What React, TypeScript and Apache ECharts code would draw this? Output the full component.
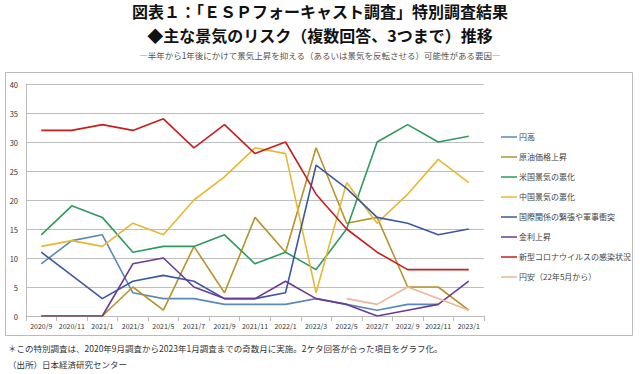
import React, { useEffect, useRef } from "react";
import * as echarts from "echarts";

const categories = ["2020/9", "2020/11", "2021/1", "2021/3", "2021/5", "2021/7", "2021/9", "2021/11", "2022/1", "2022/3", "2022/5", "2022/7", "2022/ 9", "2022/11", "2023/1"];

const endaka = [9, 13, 14, 4, 3, 3, 2, 2, 2, 3, 2, 1, 2, 2, null];
const genyu = [0, 0, 0, 5, 1, 12, 4, 17, 11, 29, 16, 17, 5, 5, 1];
const beikoku = [14, 19, 17, 11, 12, 12, 14, 9, 11, 8, 15, 30, 33, 30, 31];
const chugoku = [12, 13, 12, 16, 14, 20, 24, 29, 28, 4, 23, 16, 21, 27, 23];
const kokusai = [11, 7, 3, 6, 7, 6, 3, 3, 4, 26, 22, 17, 16, 14, 15];
const kinri = [0, 0, 0, 9, 10, 5, 3, 3, 6, 3, 2, 0, 1, 2, 6];
const corona = [32, 32, 33, 32, 34, 29, 33, 28, 30, 21, 15, 11, 8, 8, 8];
const enyasu = [null, null, null, null, null, null, null, null, null, null, 3, 2, 5, 3, 1];

const seriesDefs = [
  { name: "円高", data: endaka, color: "#5a8ab8" },
  { name: "原油価格上昇", data: genyu, color: "#b8922c" },
  { name: "米国景気の悪化", data: beikoku, color: "#2e9a5e" },
  { name: "中国景気の悪化", data: chugoku, color: "#e6b833" },
  { name: "国際関係の緊張や軍事衝突", data: kokusai, color: "#3c58a0" },
  { name: "金利上昇", data: kinri, color: "#6a3a96" },
  { name: "新型コロナウイルスの感染状況", data: corona, color: "#c81e1e" },
  { name: "円安（22年5月から）", data: enyasu, color: "#f0b49a" },
];

const title1 = "図表１：「ＥＳＰフォーキャスト調査」特別調査結果";
const title2 = "◆主な景気のリスク（複数回答、3つまで）推移";
const subtitle = "―半年から1年後にかけて景気上昇を抑える（あるいは景気を反転させる）可能性がある要因―";
const note1 = "＊この特別調査は、2020年9月調査から2023年1月調査までの奇数月に実施。2ケタ回答が合った項目をグラフ化。";
const note2 = "（出所）日本経済研究センター";

const FONT = "'Noto Sans CJK JP', 'Noto Sans', sans-serif";

export default function App() {
  const ref = useRef<HTMLDivElement>(null);
  useEffect(() => {
    if (!ref.current) return;
    const chart = echarts.init(ref.current, null, { renderer: "svg" });
    chart.setOption({
      animation: false,
      backgroundColor: "#ffffff",
      textStyle: { fontFamily: FONT },
      graphic: [
        { type: "text", left: "center", top: 3, style: { text: title1, font: `bold 16px ${FONT}`, fill: "#111" } },
        { type: "text", left: "center", top: 27, style: { text: title2, font: `bold 16px ${FONT}`, fill: "#111" } },
        { type: "text", left: "center", top: 51, style: { text: subtitle, font: `8.5px ${FONT}`, fill: "#555" } },
        { type: "rect", shape: { x: 5.5, y: 72.5, width: 627, height: 263 }, style: { fill: "none", stroke: "#bbbbbb", lineWidth: 1 }, z: -1 },
        { type: "text", left: 8, top: 344, style: { text: note1, font: `8.5px ${FONT}`, fill: "#333" } },
        { type: "text", left: 8, top: 360, style: { text: note2, font: `8.5px ${FONT}`, fill: "#333" } },
      ],
      legend: {
        orient: "vertical",
        left: 496,
        top: 128,
        itemGap: 12,
        itemWidth: 16,
        itemHeight: 11,
        icon: "path://M0,5L16,5L16,6.5L0,6.5Z",
        textStyle: { fontSize: 8, color: "#444", fontFamily: FONT, padding: [0, 0, 0, -3] },
        data: seriesDefs.map((s) => s.name),
      },
      grid: { left: 26, right: 156, top: 84, bottom: 58, containLabel: false },
      xAxis: {
        type: "category",
        data: categories,
        boundaryGap: true,
        axisLine: { lineStyle: { color: "#bbbbbb" } },
        axisTick: { show: true, alignWithLabel: false, lineStyle: { color: "#bbbbbb" } },
        axisLabel: { fontSize: 7, color: "#333", interval: 0, margin: 6 },
      },
      yAxis: {
        type: "value",
        min: 0,
        max: 40,
        interval: 5,
        axisLine: { show: true, lineStyle: { color: "#bbbbbb" } },
        axisLabel: { fontSize: 7.5, color: "#333", margin: 8 },
        splitLine: { lineStyle: { color: "#bfbfbf", width: 1 } },
      },
      series: seriesDefs.map((s) => ({
        name: s.name,
        type: "line",
        data: s.data,
        symbol: "none",
        showSymbol: false,
        connectNulls: false,
        lineStyle: { color: s.color, width: 1.6 },
        itemStyle: { color: s.color },
      })),
    });
    return () => chart.dispose();
  }, []);
  return <div ref={ref} style={{ width: 640, height: 374, position: "absolute", left: 0, top: 0 }} />;
}
